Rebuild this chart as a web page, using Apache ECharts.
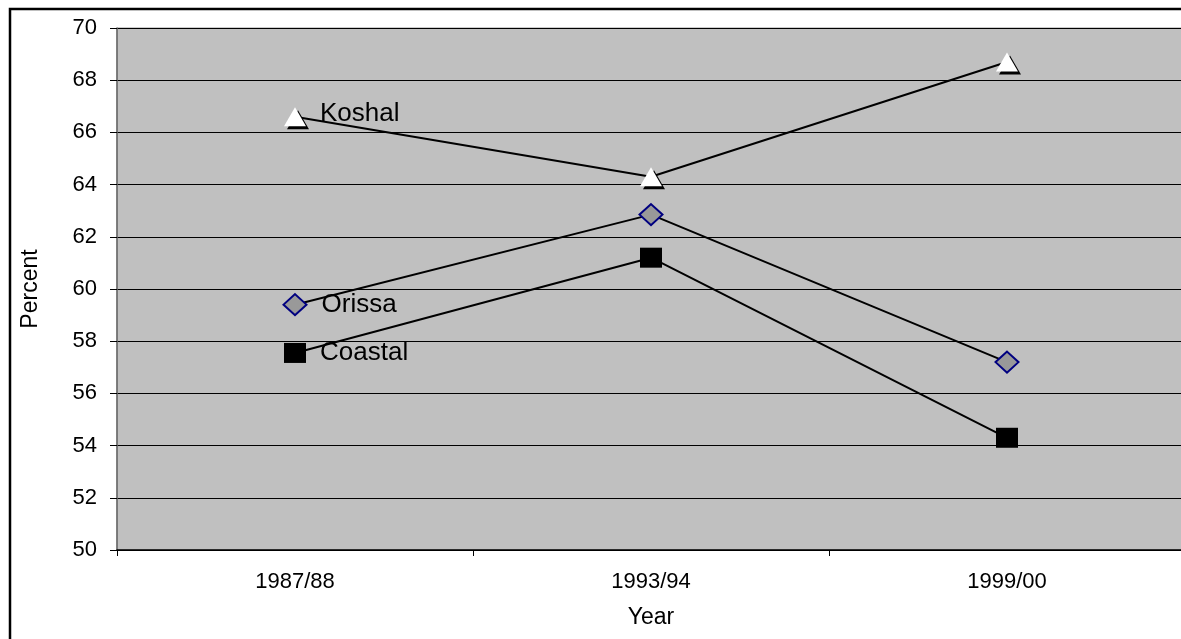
<!DOCTYPE html>
<html>
<head>
<meta charset="utf-8">
<script src="https://cdn.jsdelivr.net/npm/echarts@6/dist/echarts.min.js"></script>
<style>
html,body{margin:0;padding:0;background:#fff;overflow:hidden;}
#chart{width:1185px;height:639px;}
</style>
</head>
<body>
<div id="chart"></div>
<script>
const years = ['1987/88', '1993/94', '1999/00'];
const koshal = [66.6, 64.3, 68.7];
const orissa = [59.4, 62.85, 57.2];
const coastal = [57.55, 61.2, 54.3];
const yTicks = { min: 50, max: 70, interval: 2 };

const FONT = "'Liberation Sans', Arial, sans-serif";
const chart = echarts.init(document.getElementById('chart'), null, { renderer: 'canvas' });

function labelFor(name, offset) {
  return {
    show: true,
    position: 'right',
    distance: 14,
    offset: offset || [0, 0],
    color: '#000',
    fontFamily: FONT,
    fontSize: 26,
    formatter: function (p) { return p.dataIndex === 0 ? name : ''; }
  };
}

chart.setOption({
  animation: false,
  backgroundColor: '#fff',
  graphic: [{
    type: 'rect',
    z: 100,
    shape: { x: 10, y: 9, width: 1400, height: 900 },
    style: { fill: 'none', stroke: '#000', lineWidth: 2.5 }
  }],
  grid: {
    left: 117, top: 28, right: 0, bottom: 89,
    show: true, backgroundColor: '#c0c0c0', borderColor: '#999', borderWidth: 1
  },
  xAxis: {
    type: 'category',
    data: years,
    boundaryGap: true,
    name: 'Year',
    nameLocation: 'middle',
    nameGap: 56,
    nameTextStyle: { color: '#000', fontFamily: FONT, fontSize: 23 },
    axisLine: { lineStyle: { color: '#000', width: 1.5 } },
    axisTick: { show: true, length: 6, lineStyle: { color: '#000' } },
    axisLabel: { color: '#000', fontFamily: FONT, fontSize: 22, margin: 21 },
    splitLine: { show: false }
  },
  yAxis: {
    type: 'value',
    min: yTicks.min, max: yTicks.max, interval: yTicks.interval,
    name: 'Percent',
    nameLocation: 'middle',
    nameGap: 75,
    nameTextStyle: { color: '#000', fontFamily: FONT, fontSize: 23 },
    axisLine: { show: true, lineStyle: { color: '#666', width: 1.5 } },
    axisTick: { show: true, length: 7, lineStyle: { color: '#000' } },
    axisLabel: { color: '#000', fontFamily: FONT, fontSize: 22, margin: 20 },
    splitLine: { show: true, lineStyle: { color: '#000', width: 1 } }
  },
  series: [
    {
      name: 'Coastal', type: 'line', data: coastal,
      symbol: 'rect', symbolSize: [22, 20],
      lineStyle: { color: '#000', width: 2 },
      itemStyle: { color: '#000', borderColor: '#000', borderWidth: 0 },
      label: labelFor('Coastal'),
      z: 3
    },
    {
      name: 'Orissa', type: 'line', data: orissa,
      symbol: 'diamond', symbolSize: [23, 21],
      lineStyle: { color: '#000', width: 2 },
      itemStyle: { color: '#999999', borderColor: '#000080', borderWidth: 2 },
      label: labelFor('Orissa'),
      z: 4
    },
    {
      name: 'Koshal', type: 'line', data: koshal,
      symbol: 'triangle', symbolSize: [22, 19],
      lineStyle: { color: '#000', width: 2 },
      itemStyle: {
        color: '#fff', borderWidth: 0,
        shadowColor: '#000', shadowBlur: 0, shadowOffsetX: 3, shadowOffsetY: 3
      },
      label: labelFor('Koshal', [0, -3]),
      z: 5
    }
  ]
});
</script>
</body>
</html>
